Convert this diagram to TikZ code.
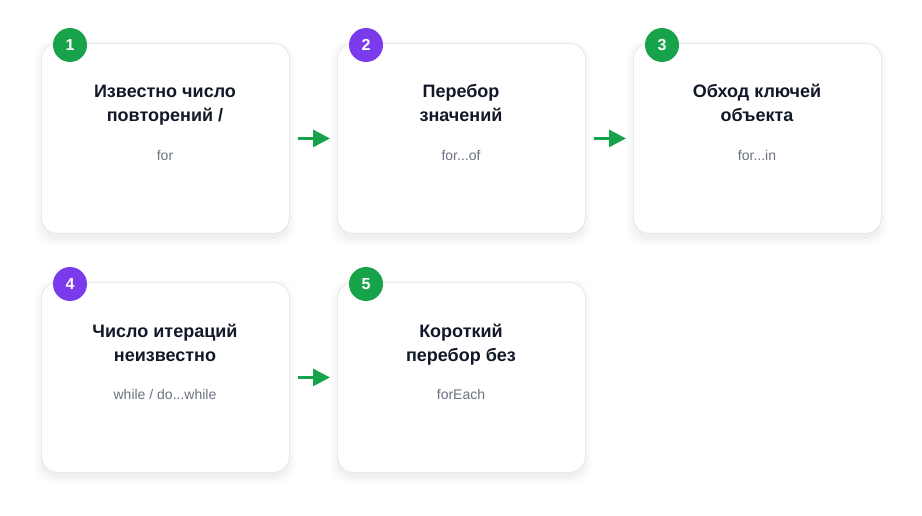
\documentclass[tikz,border=0pt]{standalone}
\usepackage{fontspec}
\setmainfont{Liberation Sans}
\usetikzlibrary{arrows.meta}
\definecolor{cgreen}{HTML}{16A34A}
\definecolor{cpurple}{HTML}{7C3AED}
\definecolor{ctitle}{HTML}{111827}
\definecolor{csub}{HTML}{6B7280}
\definecolor{cborder}{HTML}{E8E9ED}
\tikzset{
  card/.style={draw=cborder, line width=0.9pt, fill=white, rounded corners=16pt,
    minimum width=248pt, minimum height=190pt, inner sep=0pt},
  badge/.style={circle, minimum size=34pt, inner sep=0pt, text=white,
    font=\fontsize{16}{16}\selectfont\bfseries},
  ttl/.style={align=center, text=ctitle, anchor=base, font=\fontsize{18}{24}\selectfont\bfseries},
  sub/.style={text=csub, anchor=base, font=\fontsize{14}{16}\selectfont},
  conn/.style={draw=cgreen, line width=3pt, -{Triangle[length=17pt,width=17pt]}},
}
\newcommand{\mycard}[6]{%
  \foreach \s/\o in {8/0.010,6/0.013,4/0.017,2/0.02}{
    \fill[black, opacity=\o, rounded corners=18pt] (#2-\s+2, #3-\s+5) rectangle (#2+248+\s-2, #3+190+\s+4);
  }
  \node[card, anchor=north west] (#1) at (#2,#3) {};
  \node[badge, fill=#4] (#1b) at (#2+29,#3+2) {#5};
  \node[ttl] (#1t) at (#2+124,#3+79) {#6};
}
\begin{document}
\begin{tikzpicture}[x=1pt,y=-1pt]
\useasboundingbox[fill=white] (0,0) rectangle (922,516);
\mycard{c1}{41}{43}{cgreen}{1}{Известно число\\повторений /}
\node[sub] (c1s) at (165,161) {for};
\mycard{c2}{337}{43}{cpurple}{2}{Перебор\\значений}
\node[sub] (c2s) at (461,161) {for...of};
\mycard{c3}{633}{43}{cgreen}{3}{Обход ключей\\объекта}
\node[sub] (c3s) at (757,161) {for...in};
\mycard{c4}{41}{282}{cpurple}{4}{Число итераций\\неизвестно}
\node[sub] (c4s) at (165,399) {while / do...while};
\mycard{c5}{337}{282}{cgreen}{5}{Короткий\\перебор без}
\node[sub] (c5s) at (461,399) {forEach};
\draw[conn] ([xshift=8pt]c1.east) -- ([xshift=-7pt]c2.west);
\draw[conn] ([xshift=8pt]c2.east) -- ([xshift=-7pt]c3.west);
\draw[conn] ([xshift=8pt]c4.east) -- ([xshift=-7pt]c5.west);
\end{tikzpicture}
\end{document}
